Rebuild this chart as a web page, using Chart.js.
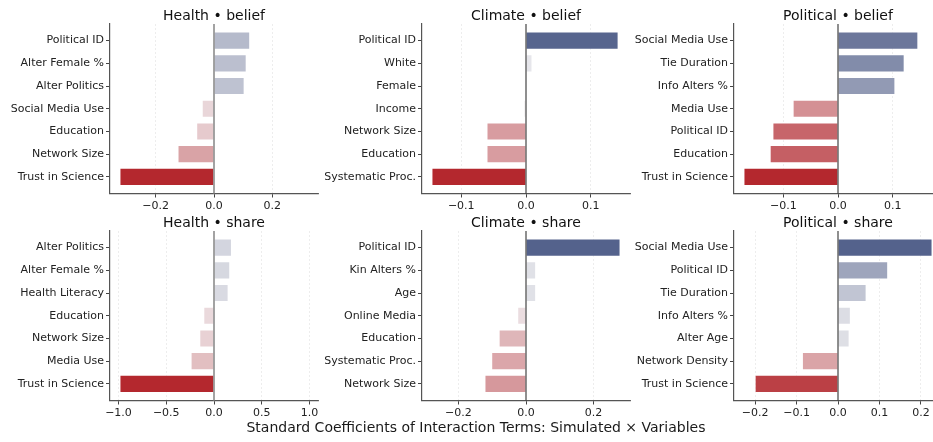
<!DOCTYPE html>
<html><head><meta charset="utf-8">
<script src="https://cdn.jsdelivr.net/npm/chart.js@4/dist/chart.umd.min.js"></script>
<style>
html,body{margin:0;padding:0;background:#fff;}
body{width:933px;height:442px;overflow:hidden;position:relative;font-family:"DejaVu Sans",sans-serif;}
.p{position:absolute;width:330px;height:226px;}
#xl{position:absolute;left:476px;top:419px;transform:translateX(-50%);white-space:nowrap;font-size:14px;line-height:17px;color:#1a1a1a;}
</style></head><body>
<div class="p" id="d0"><canvas id="c0"></canvas></div>
<div class="p" id="d1"><canvas id="c1"></canvas></div>
<div class="p" id="d2"><canvas id="c2"></canvas></div>
<div class="p" id="d3"><canvas id="c3"></canvas></div>
<div class="p" id="d4"><canvas id="c4"></canvas></div>
<div class="p" id="d5"><canvas id="c5"></canvas></div>
<div id="xl">Standard Coefficients of Interaction Terms: Simulated × Variables</div>
<script>
// ---- data ----
const healthBeliefLabels = ["Political ID","Alter Female %","Alter Politics","Social Media Use","Education","Network Size","Trust in Science"];
const healthBeliefValues = [0.124, 0.112, 0.105, -0.042, -0.061, -0.125, -0.324];
const healthBeliefTicks = [-0.2, 0, 0.2];

const climateBeliefLabels = ["Political ID","White","Female","Income","Network Size","Education","Systematic Proc."];
const climateBeliefValues = [0.143, 0.010, 0.001, -0.004, -0.061, -0.061, -0.146];
const climateBeliefTicks = [-0.1, 0, 0.1];

const politicalBeliefLabels = ["Social Media Use","Tie Duration","Info Alters %","Media Use","Political ID","Education","Trust in Science"];
const politicalBeliefValues = [0.147, 0.122, 0.105, -0.083, -0.120, -0.125, -0.173];
const politicalBeliefTicks = [-0.1, 0, 0.1];

const healthShareLabels = ["Alter Politics","Alter Female %","Health Literacy","Education","Network Size","Media Use","Trust in Science"];
const healthShareValues = [0.188, 0.170, 0.153, -0.112, -0.154, -0.245, -0.990];
const healthShareTicks = [-1.0, -0.5, 0, 0.5, 1.0];

const climateShareLabels = ["Political ID","Kin Alters %","Age","Online Media","Education","Systematic Proc.","Network Size"];
const climateShareValues = [0.280, 0.030, 0.030, -0.026, -0.081, -0.103, -0.123];
const climateShareTicks = [-0.2, 0, 0.2];

const politicalShareLabels = ["Social Media Use","Political ID","Tie Duration","Info Alters %","Alter Age","Network Density","Trust in Science"];
const politicalShareValues = [0.228, 0.121, 0.069, 0.031, 0.028, -0.087, -0.201];
const politicalShareTicks = [-0.2, -0.1, 0, 0.1, 0.2];

const panelTitles = ["Health • belief","Climate • belief","Political • belief","Health • share","Climate • share","Political • share"];

// ---- layout / style ----
const panels = [
  {title: panelTitles[0], labels: healthBeliefLabels, values: healthBeliefValues, ticks: healthBeliefTicks, col: 0, row: 0, zc: '#8c8c8c', zw: 1.6},
  {title: panelTitles[1], labels: climateBeliefLabels, values: climateBeliefValues, ticks: climateBeliefTicks, col: 1, row: 0, zc: '#333', zw: 1.1},
  {title: panelTitles[2], labels: politicalBeliefLabels, values: politicalBeliefValues, ticks: politicalBeliefTicks, col: 2, row: 0, zc: '#333', zw: 1.1},
  {title: panelTitles[3], labels: healthShareLabels, values: healthShareValues, ticks: healthShareTicks, col: 0, row: 1, zc: '#8c8c8c', zw: 1.6},
  {title: panelTitles[4], labels: climateShareLabels, values: climateShareValues, ticks: climateShareTicks, col: 1, row: 1, zc: '#333', zw: 1.1},
  {title: panelTitles[5], labels: politicalShareLabels, values: politicalShareValues, ticks: politicalShareTicks, col: 2, row: 1, zc: '#333', zw: 1.1}
];
const colX = [110.3, 421.8, 734.3];
const rowY = [24, 231];
const YW = 110, PADTOP = 24, AREAW = 208, AREAH = 169.5, CW = 330, CH = 226;

const LIGHT = [241, 240, 242], BLUE = [84, 98, 140], RED = [180, 40, 46];
function colorFor(v, maxAbs) {
  const t = Math.min(1, Math.abs(v) / maxAbs);
  const end = v >= 0 ? BLUE : RED;
  const c = LIGHT.map((l, k) => Math.round(l + (end[k] - l) * t));
  return `rgb(${c[0]},${c[1]},${c[2]})`;
}
function fmt(v) {
  if (Math.abs(v) < 1e-9) return '0.0';
  return (v < 0 ? '\u2212' : '') + Math.abs(v).toFixed(1);
}

const FONT = {family: '"DejaVu Sans", sans-serif', size: 11};

panels.forEach((p, i) => {
  const div = document.getElementById('d' + i);
  div.style.left = (colX[p.col] - YW) + 'px';
  div.style.top = (rowY[p.row] - PADTOP) + 'px';
  const maxAbs = Math.max(...p.values.map(Math.abs));
  const lim = maxAbs * 1.1;
  const zeroPlugin = {
    id: 'zero' + i,
    afterDatasetsDraw(chart) {
      const {ctx, chartArea, scales} = chart;
      const x = scales.x.getPixelForValue(0);
      ctx.save();
      ctx.strokeStyle = p.zc; ctx.lineWidth = p.zw;
      ctx.beginPath(); ctx.moveTo(x, chartArea.top); ctx.lineTo(x, chartArea.bottom); ctx.stroke();
      ctx.restore();
    },
    afterDraw(chart) {
      const {ctx, chartArea} = chart;
      ctx.save();
      ctx.font = '14px "DejaVu Sans", sans-serif';
      ctx.fillStyle = '#111';
      ctx.textAlign = 'center';
      ctx.textBaseline = 'alphabetic';
      ctx.fillText(p.title, (chartArea.left + chartArea.right) / 2, chartArea.top - 4.5);
      ctx.restore();
    }
  };
  new Chart(document.getElementById('c' + i), {
    type: 'bar',
    data: {
      datasets: [{
        data: p.values.map((v, k) => ({x: v, y: k})),
        backgroundColor: p.values.map(v => colorFor(v, maxAbs)),
        borderColor: 'rgba(255,255,255,0.55)',
        borderWidth: 1,
        barPercentage: 0.8,
        categoryPercentage: 1.0
      }]
    },
    options: {
      indexAxis: 'y',
      responsive: true,
      maintainAspectRatio: false,
      animation: false,
      layout: {padding: {top: PADTOP, left: 0, right: CW - YW - AREAW, bottom: 0}},
      plugins: {legend: {display: false}, tooltip: {enabled: false}, title: {display: false}},
      scales: {
        x: {
          type: 'linear', min: -lim, max: lim, offset: false,
          afterBuildTicks: ax => { ax.ticks = p.ticks.map(v => ({value: v})); },
          afterFit: ax => { ax.height = CH - PADTOP - AREAH; },
          ticks: {callback: v => fmt(v), font: FONT, color: '#222', padding: 2, maxRotation: 0, autoSkip: false},
          grid: {
            offset: false,
            color: ctx => (ctx.tick && Math.abs(ctx.tick.value) < 1e-9) ? 'rgba(0,0,0,0)' : 'rgba(0,0,0,0.09)',
            lineWidth: 0.8, drawTicks: true, tickLength: 4, tickColor: '#444', tickWidth: 1
          },
          border: {display: true, color: '#555', width: 1.2, dash: [2, 2]}
        },
        y: {
          type: 'linear', reverse: true, min: -0.73, max: 6.73, offset: false,
          afterBuildTicks: ax => { ax.ticks = p.labels.map((_, k) => ({value: k})); },
          afterFit: ax => { ax.width = YW; },
          ticks: {callback: v => p.labels[v], font: FONT, color: '#222', padding: 2, autoSkip: false},
          grid: {offset: false, drawOnChartArea: false, drawTicks: true, tickLength: 4, tickColor: '#444', tickWidth: 1},
          border: {display: true, color: '#555', width: 1.2}
        }
      }
    },
    plugins: [zeroPlugin]
  });
});
</script>
</body></html>
